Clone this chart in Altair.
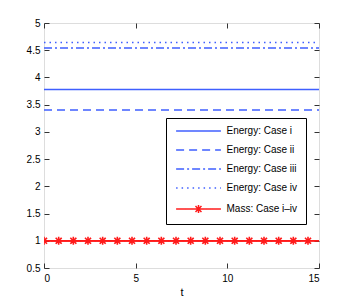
import altair as alt
import pandas as pd

# ---- data ----
series_names = ["Energy: Case i", "Energy: Case ii", "Energy: Case iii",
                "Energy: Case iv", "Mass: Case i–iv"]
energy_values = [3.78, 3.40, 4.54, 4.64]
mass_value = 1.0
t_range = [0, 15]
mass_marker_t = [0, 0.8, 1.6, 2.4, 3.2, 4.0, 4.8, 5.6, 6.4, 7.2, 8.0,
                 8.8, 9.6, 10.4, 11.2, 12.0, 12.8, 13.6, 14.4]

x_ticks = [0, 5, 10, 15]
y_ticks = [0.5, 1, 1.5, 2, 2.5, 3, 3.5, 4, 4.5, 5]

colors = ["#3f5fff", "#3f5fff", "#3f5fff", "#3f5fff", "#ff1a1a"]
dashes = [[1, 0], [8, 5], [8, 3, 2, 3], [1.5, 4], [1, 0]]

rows = []
for name, v in zip(series_names[:4], energy_values):
    for t in t_range:
        rows.append({"t": t, "value": v, "series": name})
for t in t_range:
    rows.append({"t": t, "value": mass_value, "series": series_names[4]})
lines_df = pd.DataFrame(rows)
marks_df = pd.DataFrame({"t": mass_marker_t,
                         "value": [mass_value] * len(mass_marker_t),
                         "series": [series_names[4]] * len(mass_marker_t)})

FONT = "Liberation Sans"
xscale = alt.Scale(domain=[0, 15], nice=False, zero=False)
yscale = alt.Scale(domain=[0.5, 5], nice=False, zero=False)

# symbol paths (unit = 4 px at size 64): long stroke, plus asterisk for the mass entry
line_shape = "M-5.6,0H5.6"
star_shape = ("M-5.6,0H5.6M-1,0H1M0,-1V1"
              "M-0.75,-0.75L0.75,0.75M-0.75,0.75L0.75,-0.75")
shapes = [line_shape, line_shape, line_shape, line_shape, star_shape]

legend = alt.Legend(
    title=None, orient="none", legendX=122, legendY=95,
    direction="vertical",
    symbolSize=64, symbolStrokeWidth=1.5, symbolOffset=19.5,
    labelFont=FONT, labelFontSize=10, labelColor="#000",
    labelOffset=23, rowPadding=9,
    labelExpr="datum.label + '\u00a0\u00a0\u00a0'",
    fillColor="white", strokeColor="#000", padding=8,
)

color_enc = alt.Color("series:N", scale=alt.Scale(domain=series_names, range=colors), legend=legend)
dash_enc = alt.StrokeDash("series:N", scale=alt.Scale(domain=series_names, range=dashes), legend=legend)
shape_enc = alt.Shape("series:N", scale=alt.Scale(domain=series_names, range=shapes), legend=legend)

tick_axis = dict(ticks=True, tickSize=5, tickColor="#333", tickWidth=1, labels=False,
                 domain=False, grid=False, title=None, offset=-5)

lines = alt.Chart(lines_df).mark_line(strokeWidth=1.5, clip=True).encode(
    x=alt.X("t:Q", scale=xscale, title="t",
            axis=alt.Axis(values=x_ticks, ticks=False, labelPadding=5, format="~g",
                          labelFont=FONT, labelFontSize=10, labelColor="#000",
                          titleFont=FONT, titleFontSize=11, titleFontWeight="normal",
                          titleColor="#000", titlePadding=3,
                          domain=False, grid=False)),
    y=alt.Y("value:Q", scale=yscale, title=None,
            axis=alt.Axis(values=y_ticks, ticks=False, labelPadding=4, format="~g",
                          labelFont=FONT, labelFontSize=10, labelColor="#000",
                          domain=False, grid=False, labelFlush=False)),
    color=color_enc, strokeDash=dash_enc, detail="series:N",
)

points = alt.Chart(marks_df).mark_point(
    size=64, strokeWidth=1.6, filled=False, opacity=1, clip=True,
).encode(
    x=alt.X("t:Q", scale=xscale, axis=alt.Axis(orient="top", values=x_ticks, **tick_axis)),
    y=alt.Y("value:Q", scale=yscale, axis=alt.Axis(orient="right", values=y_ticks, **tick_axis)),
    color=color_enc, strokeDash=dash_enc, shape=shape_enc,
)

ticks_layer = alt.Chart(lines_df).mark_line(strokeOpacity=0).encode(
    x=alt.X("t:Q", scale=xscale, axis=alt.Axis(orient="bottom", values=x_ticks, **tick_axis)),
    y=alt.Y("value:Q", scale=yscale, axis=alt.Axis(orient="left", values=y_ticks, **tick_axis)),
    detail="series:N",
)

chart = alt.layer(lines, points, ticks_layer).resolve_axis(x="independent", y="independent").properties(
    width=275, height=245,
    padding={"left": 18, "top": 10, "right": 5, "bottom": 5},
).configure_view(stroke="#222", strokeWidth=1).configure(background="white")

chart.save("out.html", embed_options={"renderer": "svg", "actions": False})
